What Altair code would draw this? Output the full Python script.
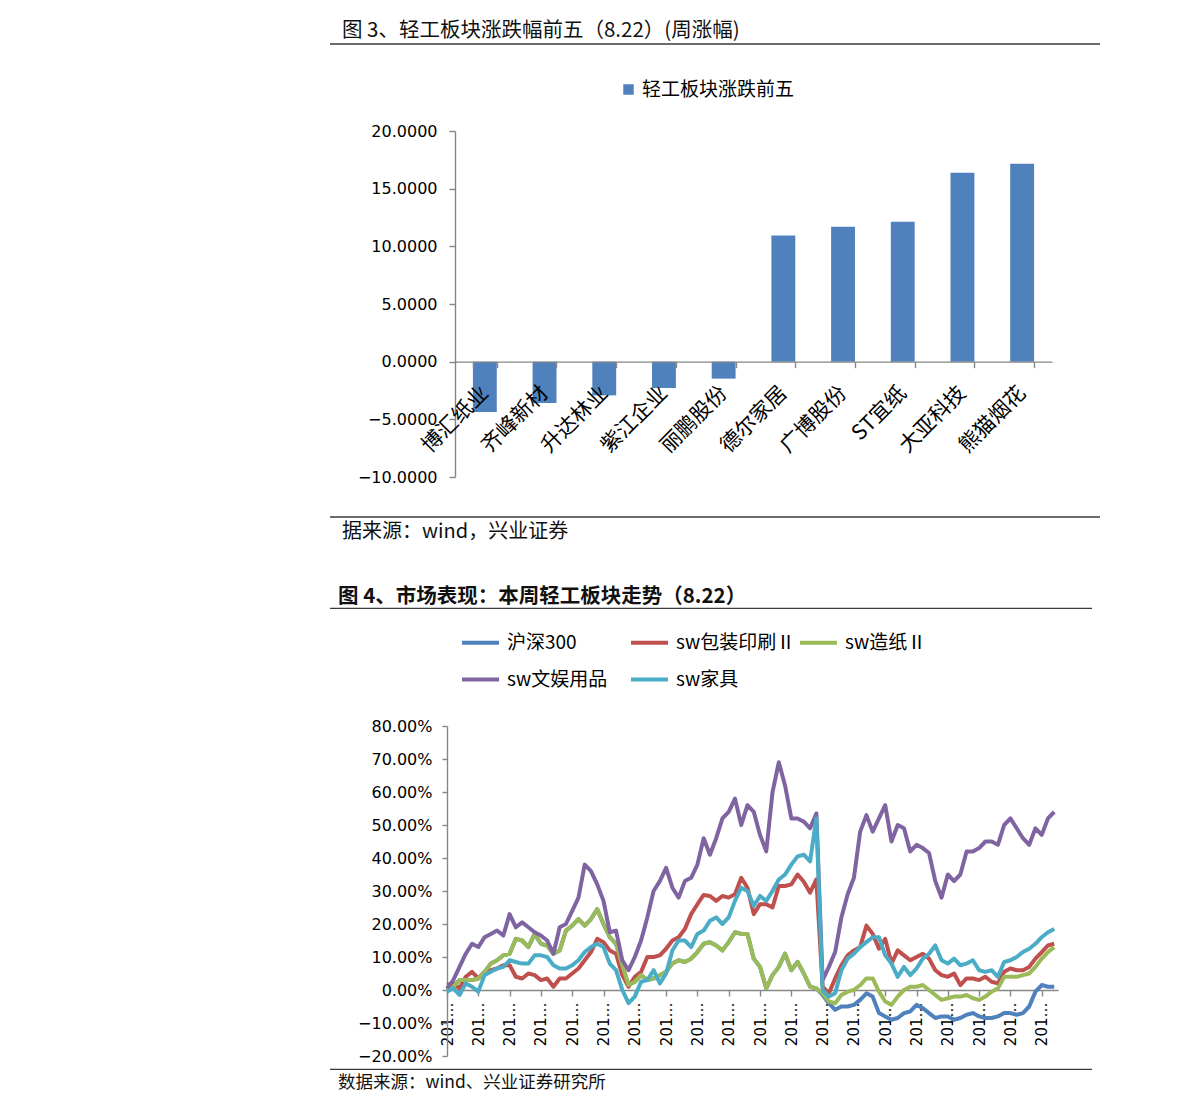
import altair as alt
import pandas as pd

CJK = "Noto Sans CJK SC"
NUM = "DejaVu Sans"

# ---------------- Figure 3 data ----------------
fig3_title = "图 3、轻工板块涨跌幅前五（8.22）(周涨幅)"
fig3_source = "据来源：wind，兴业证券"
bar_series = "轻工板块涨跌前五"
stocks = ["博汇纸业", "齐峰新材", "升达林业", "紫江企业", "丽鹏股份",
          "德尔家居", "广博股份", "ST宜纸", "大亚科技", "熊猫烟花"]
weekly_change = [-4.36, -3.58, -2.92, -2.28, -1.47,
                 10.93, 11.70, 12.14, 16.39, 17.17]
bar_y_ticks = [-10, -5, 0, 5, 10, 15, 20]

# ---------------- Figure 4 data ----------------
fig4_title = "图 4、市场表现：本周轻工板块走势（8.22）"
fig4_source = "数据来源：wind、兴业证券研究所"
series_names = ["沪深300", "sw包装印刷Ⅱ", "sw造纸Ⅱ", "sw文娱用品", "sw家具"]
series_colors = ["#4F81BD", "#C0504D", "#9BBB59", "#8064A2", "#4BACC6"]

hs300 = [0, 1, 3, 3, 3, 3.5, 5.5, 8, 9, 10.5,
         11, 15.5, 15, 13, 17, 14, 13.5, 11, 12, 18,
         19.5, 21.5, 19.5, 21.5, 24.5, 20, 16, 14, 7.5, 1.5,
         2.5, 4.5, 3, 3.5, 4.5, 5.5, 8, 9, 8.5, 9.5,
         11.5, 14, 14.5, 13.5, 12, 14.5, 17.5, 17, 17, 9.5,
         7, 0.5, 4.5, 7, 11, 6, 8.5, 5, 1, 0.5,
         -1.5, -4, -6, -5, -5, -4.5, -3, -1, -2, -7,
         -8, -9, -8.5, -7, -6.5, -4.5, -5.5, -7, -8.5, -8,
         -8, -9, -8.5, -7.5, -7, -8, -8.5, -8.5, -8, -7,
         -7, -7.5, -7, -5, -0.5, 1.5, 1, 1]
packaging = [1.5, 2, 0.5, 4, 5.5, 3.5, 5.5, 6, 6.5, 7.5,
             7.5, 4, 3.5, 5, 4.5, 3, 3.5, 1, 3.5, 3.5,
             5, 6.5, 9, 11.5, 15.5, 14.5, 12, 11, 4.5, 1,
             4, 5.5, 10, 10, 10.5, 12.5, 15, 16, 18.5, 23,
             26, 28.8, 28.5, 27, 28.5, 28, 29, 34, 31, 23,
             26, 26, 25, 31.5, 31.5, 32, 35, 32.8, 29.5, 33.5,
             1, -1, 3.5, 7.5, 10.5, 12, 13, 19.5, 17, 12.5,
             15.5, 8, 12, 10.5, 9, 10, 11, 9.5, 6, 4.5,
             4, 5, 1.5, 3.5, 3.5, 3, 4, 2.5, 2, 5.5,
             6.5, 6, 6, 7, 9.5, 11.5, 13.5, 14]
paper = [0, 1, 3, 3, 3, 3.5, 5.5, 8, 9, 10.5,
         11, 15.5, 15, 13, 17, 14, 13.5, 11, 12, 18,
         19.5, 21.5, 19.5, 21.5, 24.5, 20, 16, 14, 7.5, 1.5,
         2.5, 4.5, 3, 3.5, 4.5, 5.5, 8, 9, 8.5, 9.5,
         11.5, 14, 14.5, 13.5, 12, 14.5, 17.5, 17, 17, 9.5,
         7, 0.5, 4.5, 7, 11, 6, 8.5, 5, 1, 0.5,
         -1, -3.5, -4, -1.5, -0.5, 0, 1.5, 3.5, 3.5, -0.5,
         -3.5, -4.5, -2, 0, 1, 1, 1.5, 0, -1.5, -3,
         -2.5, -2, -2, -1.5, -2.5, -3, -2, -0.5, 0.5, 4,
         4, 4, 4.5, 5, 7, 9.5, 11.5, 13]
entertainment = [0.5, 3, 7, 11, 14, 13, 16, 17, 18, 16.5,
                 23, 19, 20.5, 19, 17.5, 16.5, 15, 11, 19, 20,
                 24, 28, 38, 36, 32, 27, 17.5, 18, 9, 6,
                 10, 15, 22, 30, 33, 37, 31, 28, 33, 34,
                 38, 46, 41, 46, 52, 54, 58, 50, 56, 54,
                 47, 42, 60, 69, 62, 52, 52, 51, 49, 53.5,
                 3, 7, 11.5, 22, 29, 34, 48, 53, 48, 52,
                 56, 45, 50, 49, 42, 44, 43, 41.5, 33, 28,
                 35, 33, 35, 42, 42, 43, 45, 45, 44, 50,
                 52, 49, 46, 44, 49, 47, 52, 54]
furniture = [-0.5, 0.5, -1.5, 2, 1, -0.5, 4.5, 5.5, 6.5, 7,
             9, 8.5, 8, 8, 10.5, 10.5, 10, 7.5, 6.5, 6.5,
             7.5, 9, 11.5, 13, 14, 13, 8, 6, 0, -4,
             -2, 2.5, 3, 6, 2, 5, 12, 15, 15, 13,
             17, 18, 21, 22, 20, 22, 27, 31, 30, 25.5,
             28.5, 27, 30, 33.5, 35, 38, 40.5, 41, 39, 52,
             0, -2, -1, 6, 9.5, 11, 13, 14.5, 16, 16,
             10.5, 8, 4, 7, 4.5, 6.5, 9.5, 11, 13.5, 9,
             8, 9.5, 7.5, 8, 9, 6, 5.5, 6, 4, 8.5,
             9, 10, 11.5, 12.5, 14, 16, 17.5, 18.5]
line_y_ticks = [-20, -10, 0, 10, 20, 30, 40, 50, 60, 70, 80]
x_tick_positions = [0, 5, 10, 15, 20, 25, 30, 35, 40, 45,
                    50, 55, 60, 65, 70, 75, 80, 85, 90, 95]
x_tick_label = "201…"

RULE_COLOR = "#3a3a3a"
AXIS_COLOR = "#868686"

# ---------------- Figure 3 chart ----------------
W1, H1 = 597, 346
df1 = pd.DataFrame({"stock": stocks, "change": weekly_change,
                    "series": [bar_series] * len(stocks)})

bars = alt.Chart(df1).mark_bar().encode(
    x=alt.X("stock:N", sort=stocks,
            scale=alt.Scale(paddingInner=0.6, paddingOuter=0.3),
            axis=alt.Axis(title=None, orient="bottom", offset=-H1 / 3,
                          labelAngle=315, labelAlign="right",
                          labelBaseline="middle", labelFont=CJK,
                          labelFontSize=21, labelPadding=22,
                          labelOverlap=False, tickBand="extent",
                          tickSize=6, zindex=1)),
    y=alt.Y("change:Q", scale=alt.Scale(domain=[-10, 20], nice=False, zero=False),
            axis=alt.Axis(title=None, values=bar_y_ticks, format=".4f",
                          labelFont=NUM, labelFontSize=16, labelPadding=12,
                          tickSize=6)),
    color=alt.Color("series:N", scale=alt.Scale(range=["#4F81BD"]),
                    legend=alt.Legend(title=None, orient="none", legendX=164,
                                      legendY=-51, symbolType="square",
                                      symbolSize=110, labelFont=CJK,
                                      labelFontSize=19, labelOffset=4,
                                      labelColor="#000"))
)

one = pd.DataFrame({"k": [0]})
t1 = alt.Chart(pd.DataFrame({"t": [fig3_title]})).mark_text(
    align="left", baseline="middle", font=CJK, fontSize=20.5, color="#111"
).encode(x=alt.value(-113), y=alt.value(-100), text="t:N")
s1 = alt.Chart(pd.DataFrame({"t": [fig3_source]})).mark_text(
    align="left", baseline="middle", font=CJK, fontSize=20, color="#111"
).encode(x=alt.value(-113), y=alt.value(401), text="t:N")
r1a = alt.Chart(one).mark_rule(color=RULE_COLOR, strokeWidth=1.3).encode(
    x=alt.value(-125), x2=alt.value(645), y=alt.value(-87))
r1b = alt.Chart(one).mark_rule(color=RULE_COLOR, strokeWidth=1.3).encode(
    x=alt.value(-125), x2=alt.value(645), y=alt.value(386))

chart1 = alt.layer(bars, t1, s1, r1a, r1b).properties(width=W1, height=H1)

# ---------------- Figure 4 chart ----------------
# plot group origin is shared with figure 3 (x=455); the line chart's x range
# starts 8px further left, and its y axis is shifted to match
SHIFT = 8
W2, H2 = 603, 330
rows = []
for name, vals in zip(series_names, [hs300, packaging, paper, entertainment, furniture]):
    for i, v in enumerate(vals):
        rows.append({"idx": i, "value": v, "series": name})
df2 = pd.DataFrame(rows)

color2 = alt.Color("series:N",
                   scale=alt.Scale(domain=series_names, range=series_colors),
                   legend=alt.Legend(title=None, orient="none", direction="horizontal",
                                     legendX=13 - SHIFT, legendY=-104, columns=3,
                                     symbolType="stroke", symbolSize=1369,
                                     symbolStrokeWidth=4, labelFont=CJK,
                                     labelFontSize=19, labelOffset=6,
                                     columnPadding=-4, rowPadding=6,
                                     gridAlign="all", labelLimit=300,
                                     labelColor="#000"))
x2 = alt.X("idx:Q", scale=alt.Scale(domain=[0, 97.6], nice=False, zero=False,
                                    range=[-SHIFT, W2]),
           axis=alt.Axis(title=None, values=x_tick_positions,
                         labelExpr="'" + x_tick_label + "'", labelAngle=270,
                         labelAlign="right", labelBaseline="middle",
                         labelFont=NUM, labelFontSize=15, labelPadding=6,
                         labelOverlap=False, tickSize=6,
                         offset=-H2 * 20 / 100))
y2 = alt.Y("value:Q", scale=alt.Scale(domain=[-20, 80], nice=False, zero=False),
           axis=alt.Axis(title=None, values=line_y_ticks,
                         labelExpr="format(datum.value, '.2f') + '%'",
                         labelFont=NUM, labelFontSize=16, labelPadding=10,
                         tickSize=5, offset=SHIFT))

line_layers = [
    alt.Chart(df2).transform_filter(alt.datum.series == name)
    .mark_line(strokeWidth=4, strokeJoin="round")
    .encode(x=x2, y=y2, color=color2)
    for name in series_names
]

t2 = alt.Chart(pd.DataFrame({"t": [fig4_title]})).mark_text(
    align="left", baseline="middle", font=CJK, fontSize=20.5, fontWeight="bold",
    color="#111"
).encode(x=alt.value(-109 - SHIFT), y=alt.value(-129), text="t:N")
s2 = alt.Chart(pd.DataFrame({"t": [fig4_source]})).mark_text(
    align="left", baseline="middle", font=CJK, fontSize=17.5, color="#111"
).encode(x=alt.value(-109 - SHIFT), y=alt.value(357), text="t:N")
r2a = alt.Chart(one).mark_rule(color=RULE_COLOR, strokeWidth=1.3).encode(
    x=alt.value(-117 - SHIFT), x2=alt.value(645 - SHIFT), y=alt.value(-117.7))
r2b = alt.Chart(one).mark_rule(color=RULE_COLOR, strokeWidth=1.3).encode(
    x=alt.value(-117 - SHIFT), x2=alt.value(645 - SHIFT), y=alt.value(343.3))

chart2 = alt.layer(*line_layers, t2, s2, r2a, r2b).properties(width=W2, height=H2)

chart = alt.concat(chart1, chart2, columns=1, spacing=45, align="none").resolve_scale(
    color="independent"
).properties(
    padding={"left": 321, "top": 13, "right": 5, "bottom": 5}
).configure_view(stroke=None).configure_axis(
    domainColor=AXIS_COLOR, tickColor=AXIS_COLOR, labelColor="#000",
    domainWidth=1.4, tickWidth=1.4, grid=False
)

chart.save("out.html", embed_options={"renderer": "svg", "actions": False})
